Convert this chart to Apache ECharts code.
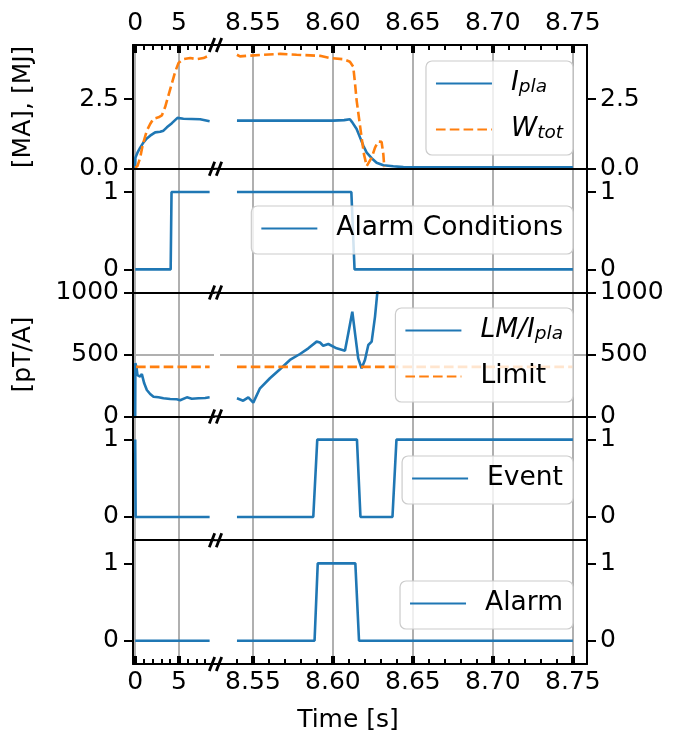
<!DOCTYPE html>
<html><head><meta charset="utf-8">
<script src="https://cdn.jsdelivr.net/npm/echarts@6/dist/echarts.min.js"></script>
<style>html,body{margin:0;padding:0;background:#fff}#c{width:673px;height:740px}</style>
</head><body><div id="c"></div>
<script>
// ---------------- DATA ----------------
// x tick values / labels (broken time axis: left segment in s, right segment in s)
const leftMajor = [0, 5];
const leftMajorLabels = ['0', '5'];
const leftMinor = [1, 2, 3, 4, 6, 7, 8];
const rightMajor = [8.55, 8.60, 8.65, 8.70, 8.75];
const rightMajorLabels = ['8.55', '8.60', '8.65', '8.70', '8.75'];
const rightMinor = [8.54, 8.56, 8.57, 8.58, 8.59, 8.61, 8.62, 8.63, 8.64, 8.66, 8.67, 8.68, 8.69, 8.71, 8.72, 8.73, 8.74];

// y tick values / labels
const p1Ticks = [0, 2.5];         const p1Labels = ['0.0', '2.5'];
const binTicks = [0, 1];          const binLabels = ['0', '1'];
const p3Ticks = [0, 500, 1000];   const p3Labels = ['0', '500', '1000'];

// Panel 1: plasma current [MA] and stored energy [MJ]
const iplaLT = [0, 0.02, 0.26, 0.57, 0.95, 1.33, 1.71, 2.28, 2.85, 3.23, 3.62, 4.19, 4.83, 5.51, 7.42, 8.5];
const iplaLV = [0, 0.40, 0.58, 0.76, 0.95, 1.09, 1.19, 1.31, 1.33, 1.37, 1.49, 1.64, 1.83, 1.80, 1.78, 1.71];
const iplaRT = [8.54, 8.57, 8.60, 8.607, 8.6106, 8.6121, 8.6148, 8.6169, 8.619, 8.6211, 8.6242, 8.6273, 8.6315, 8.6377, 8.644, 8.6523, 8.70, 8.75];
const iplaRV = [1.73, 1.73, 1.73, 1.75, 1.78, 1.67, 1.43, 1.13, 0.83, 0.58, 0.38, 0.22, 0.13, 0.09, 0.06, 0.05, 0.05, 0.05];
const wtotLT = [0, 0.26, 0.57, 0.88, 1.33, 1.71, 2.09, 2.66, 3.05, 3.42, 3.8, 4.19, 4.57, 4.94, 5.51, 6.28, 7.04, 7.8, 8.37, 8.5];
const wtotLV = [0.04, 0.10, 0.40, 0.89, 1.37, 1.61, 1.80, 1.85, 1.92, 2.22, 2.64, 3.07, 3.49, 3.80, 3.94, 3.98, 3.94, 3.98, 4.06, 4.10];
const wtotRT = [8.54, 8.5419, 8.546, 8.5565, 8.5669, 8.5773, 8.5919, 8.5981, 8.6065, 8.6106, 8.6127, 8.6138, 8.6148, 8.6165, 8.6179, 8.6194, 8.6211, 8.6221, 8.6242, 8.6263, 8.6283, 8.6304, 8.6315, 8.6321];
const wtotRV = [4.10, 4.04, 4.06, 4.10, 4.13, 4.10, 4.06, 3.98, 3.94, 3.85, 3.67, 3.07, 2.46, 1.73, 1.13, 0.52, 0.10, 0.04, 0.40, 0.76, 0.98, 0.97, 0.52, 0.06];

// Panel 2: alarm conditions
const condLT = [0, 4.05, 4.15, 8.5];
const condLV = [0, 0, 1, 1];
const condRT = [8.54, 8.6115, 8.6135, 8.75];
const condRV = [1, 1, 0, 0];

// Panel 3: LM / I_pla [pT/A] and limit
const lmLT = [0, 0.02, 0.15, 0.26, 0.57, 0.76, 1.03, 1.33, 1.71, 2.09, 2.66, 3.23, 4.0, 4.75, 5.13, 5.9, 6.47, 7.23, 7.99, 8.5];
const lmLV = [0, 430, 397, 334, 321, 342, 267, 213, 181, 159, 154, 146, 141, 138, 131, 154, 143, 146, 149, 154];
const lmRT = [8.54, 8.5439, 8.5471, 8.5502, 8.5544, 8.5606, 8.5669, 8.5731, 8.5794, 8.5846, 8.5898, 8.5919, 8.5939, 8.5971, 8.6023, 8.6075, 8.6096, 8.6121, 8.6138, 8.6158, 8.6179, 8.62, 8.6221, 8.6242, 8.6263, 8.6277, 8.6284];
const lmRV = [146, 127, 154, 111, 227, 308, 381, 456, 504, 550, 604, 597, 571, 585, 550, 531, 671, 846, 671, 469, 389, 456, 577, 604, 806, 995, 1100];
const limLT = [0.1, 8.5];
const limLV = [400, 400];
const limRT = [8.54, 8.75];
const limRV = [400, 400];

// Panel 4: event
const evLT = [0, 0.05, 8.5];
const evLV = [1, 0, 0];
const evRT = [8.54, 8.5877, 8.5902, 8.6150, 8.6172, 8.6372, 8.6397, 8.75];
const evRV = [0, 0, 1, 1, 0, 0, 1, 1];

// Panel 5: alarm
const alLT = [0, 8.5];
const alLV = [0, 0];
const alRT = [8.54, 8.5885, 8.5905, 8.614, 8.6163, 8.75];
const alRV = [0, 0, 1, 1, 0, 0];

// ---------------- STYLE / LAYOUT ----------------
const FONT = 'DejaVu Sans';
const FS = 25;
const LFS = 26.5;
const BLUE = '#1f77b4', ORANGE = '#ff7f0e', GRIDC = '#b0b0b0';
const L0 = 133, L1 = 214, R0 = 220, R1 = 587, TOP = 45, PH = 123.8;
const XL = [-0.25, 9.0];
const XR = [8.5294, 8.7588];
const DASH = [9.6, 4.2];

const panels = [
  {ymin: 0, ymax: 4.45, ticks: p1Ticks, labels: p1Labels, interval: 2.5, hgrid: true, name: '[MA], [MJ]'},
  {ymin: -0.3, ymax: 1.3, ticks: binTicks, labels: binLabels, hgrid: false},
  {ymin: 0, ymax: 1000, ticks: p3Ticks, labels: p3Labels, interval: 500, hgrid: true, name: '[pT/A]'},
  {ymin: -0.3, ymax: 1.3, ticks: binTicks, labels: binLabels, hgrid: false},
  {ymin: -0.3, ymax: 1.3, ticks: binTicks, labels: binLabels, hgrid: false}
];

const grid = [], xAxis = [], yAxis = [], series = [], mainX = [];

function majorTick(vals) {
  return {show: true, inside: true, length: 8, customValues: vals, lineStyle: {color: '#000', width: 4}};
}
function minorTick(vals) {
  return {show: true, inside: true, length: 5, customValues: vals, lineStyle: {color: '#000', width: 2}};
}
function tickLabel(vals, labels, margin) {
  return {show: true, customValues: vals, margin: margin, fontSize: FS, fontFamily: FONT, color: '#000',
    formatter: v => { const i = vals.findIndex(x => Math.abs(x - v) < 1e-9); return i >= 0 ? labels[i] : ''; }};
}

for (let p = 0; p < 5; p++) {
  const top = TOP + p * PH;
  for (let s = 0; s < 2; s++) {
    const g = p * 2 + s;
    const x0 = s === 0 ? L0 : R0, x1 = s === 0 ? L1 : R1;
    grid.push({left: x0, top: top, width: x1 - x0, height: PH, containLabel: false, outerBoundsMode: 'none'});
    const ext = s === 0 ? XL : XR;
    const majors = s === 0 ? leftMajor : rightMajor;
    const minors = s === 0 ? leftMinor : rightMinor;
    const mlabels = s === 0 ? leftMajorLabels : rightMajorLabels;
    const base = {type: 'value', gridIndex: g, min: ext[0], max: ext[1], splitLine: {show: false}, z: 3};
    mainX[g] = xAxis.length;
    const isBottom = p === 4;
    xAxis.push(Object.assign({}, base, {position: 'bottom',
      axisLine: {show: true, onZero: false, lineStyle: {color: '#000', width: 2}},
      axisTick: isBottom ? majorTick(majors) : {show: false},
      axisLabel: isBottom ? tickLabel(majors, mlabels, 6) : {show: false}}));
    if (isBottom) {
      xAxis.push(Object.assign({}, base, {position: 'bottom', axisLine: {show: false, onZero: false},
        axisTick: minorTick(minors), axisLabel: {show: false}}));
    }
    if (p === 0) {
      xAxis.push(Object.assign({}, base, {position: 'top',
        axisLine: {show: true, onZero: false, lineStyle: {color: '#000', width: 2}},
        axisTick: majorTick(majors), axisLabel: tickLabel(majors, mlabels, 9)}));
      xAxis.push(Object.assign({}, base, {position: 'top', axisLine: {show: false, onZero: false},
        axisTick: minorTick(minors), axisLabel: {show: false}}));
    }
    const P = panels[p];
    const ya = {type: 'value', gridIndex: g, position: s === 0 ? 'left' : 'right', min: P.ymin, max: P.ymax,
      axisLine: {show: true, onZero: false, lineStyle: {color: '#000', width: 2}},
      axisTick: {show: true, inside: false, length: 9, customValues: P.ticks, lineStyle: {color: '#000', width: 2}},
      axisLabel: tickLabel(P.ticks, P.labels, s === 0 ? 14 : 13),
      splitLine: {show: P.hgrid, showMinLine: false, showMaxLine: false, lineStyle: {color: GRIDC, width: 2}}};
    if (P.interval) ya.interval = P.interval;
    if (s === 0 && P.name) {
      ya.name = P.name; ya.nameLocation = 'middle'; ya.nameGap = 97; ya.nameRotate = 90;
      ya.nameTextStyle = {fontSize: FS, fontFamily: FONT, color: '#000'};
    }
    yAxis.push(ya);
    // vertical grid lines at major x ticks
    series.push({type: 'line', xAxisIndex: mainX[g], yAxisIndex: g, data: [], silent: true, animation: false,
      markLine: {silent: true, z: 1, symbol: ['none', 'none'], label: {show: false}, animation: false,
        lineStyle: {color: GRIDC, width: 2, type: 'solid'}, emphasis: {disabled: true},
        data: majors.map(v => ({xAxis: v}))}});
  }
}

function zip(t, v) { return t.map((x, i) => [x, v[i]]); }
function addLine(name, p, t, v, color, dashed, side) {
  const g = p * 2 + side;
  series.push({type: 'line', name: name, xAxisIndex: mainX[g], yAxisIndex: g, data: zip(t, v),
    symbol: 'none', showSymbol: false, z: 2, animation: false,
    lineStyle: {color: color, width: 2.6, type: dashed ? DASH : 'solid'}, itemStyle: {color: color},
    emphasis: {disabled: true}});
}
addLine('I_pla', 0, iplaLT, iplaLV, BLUE, false, 0);
addLine('I_pla', 0, iplaRT, iplaRV, BLUE, false, 1);
addLine('W_tot', 0, wtotLT, wtotLV, ORANGE, true, 0);
addLine('W_tot', 0, wtotRT, wtotRV, ORANGE, true, 1);
addLine('Alarm Conditions', 1, condLT, condLV, BLUE, false, 0);
addLine('Alarm Conditions', 1, condRT, condRV, BLUE, false, 1);
addLine('LM/I_pla', 2, lmLT, lmLV, BLUE, false, 0);
addLine('LM/I_pla', 2, lmRT, lmRV, BLUE, false, 1);
addLine('Limit', 2, limLT, limLV, ORANGE, true, 0);
addLine('Limit', 2, limRT, limRV, ORANGE, true, 1);
addLine('Event', 3, evLT, evLV, BLUE, false, 0);
addLine('Event', 3, evRT, evRV, BLUE, false, 1);
addLine('Alarm', 4, alLT, alLV, BLUE, false, 0);
addLine('Alarm', 4, alRT, alRV, BLUE, false, 1);

const richFmt = {
  'I_pla': '{m|I}{s|pla}',
  'W_tot': '{m|W}{s|tot}',
  'LM/I_pla': '{m|LM/I}{s|pla}'
};
function mkLegend(names, top) {
  return {
    data: names, orient: 'vertical', align: 'left', right: 673 - 573, top: top,
    itemWidth: 56, itemHeight: 26, itemGap: 19, padding: [9, 10, 12, 9],
    backgroundColor: 'rgba(255,255,255,0.8)', borderColor: '#cccccc', borderWidth: 1.2, borderRadius: 6,
    itemStyle: {opacity: 0}, selectedMode: false,
    textStyle: {fontFamily: FONT, fontSize: LFS, color: '#000',
      rich: {
        t: {fontFamily: FONT, fontSize: LFS, color: '#000', verticalAlign: 'bottom', padding: [0, 0, 0, 14]},
        m: {fontFamily: FONT, fontSize: LFS, fontStyle: 'italic', color: '#000', verticalAlign: 'bottom', padding: [0, 0, 0, 14]},
        s: {fontFamily: FONT, fontSize: 18.5, fontStyle: 'italic', color: '#000', verticalAlign: 'bottom'}
      }},
    formatter: n => richFmt[n] || ('{t|' + n + '}')
  };
}
const legend = [
  mkLegend(['I_pla', 'W_tot'], 61),
  mkLegend(['Alarm Conditions'], 206),
  mkLegend(['LM/I_pla', 'Limit'], 308),
  mkLegend(['Event'], 456),
  mkLegend(['Alarm'], 581)
];

// break marks on the horizontal spines
const graphic = [];
const mid = L1 + 1.5;
for (let k = 0; k <= 5; k++) {
  const y = TOP + k * PH;
  graphic.push({type: 'line', z: 10, shape: {x1: L1 - 1, y1: y, x2: R0 + 1, y2: y}, style: {stroke: '#000', lineWidth: 2}});
  [-3.5, 3.5].forEach(dx => graphic.push({type: 'line', z: 11,
    shape: {x1: mid + dx - 2.7, y1: y + 7, x2: mid + dx + 2.7, y2: y - 7}, style: {stroke: '#000', lineWidth: 2.8}}));
}
graphic.push({type: 'text', z: 10, x: 348, y: 720,
  style: {text: 'Time [s]', fontSize: FS, fontFamily: FONT, fill: '#000', align: 'center', verticalAlign: 'middle'}});

const chart = echarts.init(document.getElementById('c'), null, {renderer: 'canvas'});
chart.setOption({
  animation: false,
  backgroundColor: '#fff',
  textStyle: {fontFamily: FONT},
  grid: grid, xAxis: xAxis, yAxis: yAxis, series: series, legend: legend, graphic: graphic
});
</script></body></html>
